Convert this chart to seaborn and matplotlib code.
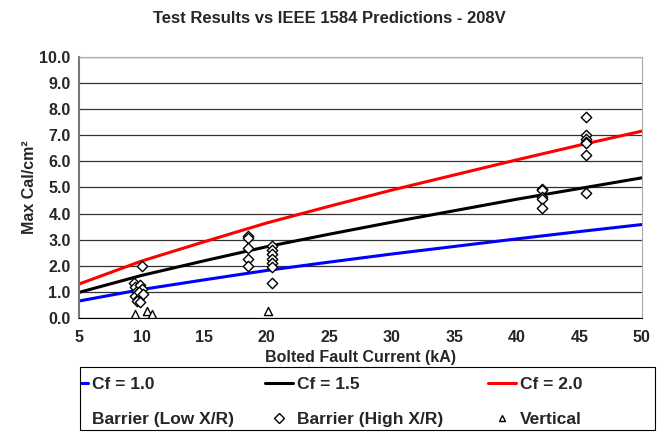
import numpy as np
import pandas as pd
import seaborn as sns
import matplotlib.pyplot as plt
from matplotlib.lines import Line2D
from matplotlib.patches import Rectangle

# IEEE 1584 prediction curves
akim = [5, 10, 15, 20, 25, 30, 35, 40, 45, 50]
cf_10 = [0.65, 1.09, 1.46, 1.82, 2.14, 2.45, 2.74, 3.03, 3.31, 3.58]
cf_15 = [0.98, 1.63, 2.19, 2.73, 3.21, 3.67, 4.11, 4.55, 4.96, 5.37]
cf_20 = [1.30, 2.18, 2.92, 3.64, 4.28, 4.90, 5.48, 6.06, 6.62, 7.16]

# test results
low_x = [9.4, 9.5, 9.6, 9.7, 9.5, 9.8, 9.6, 18.5, 18.5, 18.5, 18.5, 18.5, 42.0, 42.0, 42.0, 42.0, 42.0]
low_y = [1.35, 1.2, 1.05, 0.95, 0.85, 0.75, 0.65, 3.15, 3.05, 2.7, 2.25, 2.0, 4.95, 4.9, 4.65, 4.55, 4.2]
high_x = [10.0, 9.9, 10.0, 9.8, 10.1, 9.9, 20.4, 20.4, 20.4, 20.4, 20.4, 20.4, 20.4,
          45.5, 45.5, 45.5, 45.5, 45.5, 45.5, 45.5]
high_y = [2.0, 1.25, 1.1, 1.0, 0.9, 0.6, 2.75, 2.6, 2.45, 2.25, 2.1, 1.95, 1.35,
          7.7, 7.0, 6.85, 6.75, 6.7, 6.25, 4.8]
vert_x = [9.5, 10.4, 10.85, 20.1]
vert_y = [0.15, 0.25, 0.15, 0.28]

sns.set_style("white")
plt.rcParams['font.family'] = ['Liberation Sans', 'DejaVu Sans']
plt.rcParams['font.weight'] = 'bold'

fig = plt.figure(figsize=(6.59, 4.32), dpi=100)
ax = fig.add_axes([0.12, 0.264, 0.854, 0.604])

kurvy = pd.DataFrame({"x": akim, "c1": cf_10, "c15": cf_15, "c2": cf_20})
sns.lineplot(data=kurvy, x="x", y="c1", color="#0000ff", lw=2.2, ax=ax)
sns.lineplot(data=kurvy, x="x", y="c15", color="black", lw=2.2, ax=ax)
sns.lineplot(data=kurvy, x="x", y="c2", color="#ff0000", lw=2.2, ax=ax)

sns.scatterplot(x=low_x, y=low_y, marker="D", s=28, facecolor="white", edgecolor="black", linewidth=1, ax=ax, zorder=5)
sns.scatterplot(x=high_x, y=high_y, marker="D", s=28, facecolor="white", edgecolor="black", linewidth=1, ax=ax, zorder=5)
sns.scatterplot(x=vert_x, y=vert_y, marker="^", s=34, facecolor="white", edgecolor="black", linewidth=1, ax=ax, zorder=5)

ax.set_xlim(5, 50)
ax.set_ylim(0, 10)
ax.set_xticks(np.arange(5, 51, 5))
ax.set_yticks(np.arange(0, 10.1, 1))
ax.set_yticklabels([f"{v:.1f}" for v in np.arange(0, 10.1, 1)])
ax.yaxis.grid(True, color="#333333", lw=0.9)
ax.set_axisbelow(True)
ax.tick_params(axis="both", labelsize=11.5, direction="out", length=4, width=1, pad=2)
ax.tick_params(axis="x", pad=5)
for s in ["top", "right"]:
    ax.spines[s].set_color("#aaaaaa")
ax.spines["left"].set_color("#777777")
ax.spines["left"].set_linewidth(1.5)
ax.spines["bottom"].set_color("black")
ax.set_xlabel("Bolted Fault Current (kA)", fontsize=11.5, fontweight="bold", labelpad=3)
ax.set_ylabel("Max Cal/cm²", fontsize=11.5, fontweight="bold", labelpad=2)
fig.suptitle("Test Results vs IEEE 1584 Predictions - 208V", fontsize=12, fontweight="bold", y=0.975)

# legend: three columns, the left one clipped by the box edge like the original
cols = [
    (60, [Line2D([], [], color="#0000ff", lw=2.2),
          Line2D([], [], marker="D", ls="none", mfc="white", mec="black", ms=5)],
     ["Cf = 1.0", "Barrier (Low X/R)"]),
    (265, [Line2D([], [], color="black", lw=2.2),
           Line2D([], [], marker="D", ls="none", mfc="white", mec="black", ms=5)],
     ["Cf = 1.5", "Barrier (High X/R)"]),
    (488, [Line2D([], [], color="#ff0000", lw=2.2),
           Line2D([], [], marker="^", ls="none", mfc="white", mec="black", ms=5)],
     ["Cf = 2.0", "Vertical"]),
]
for px, hnd, lbl in cols:
    fig.legend(hnd, lbl, loc="center left", bbox_to_anchor=(px / 659, (432 - 402) / 432),
               fontsize=12.5, frameon=False, handlelength=1.6, handletextpad=0.25,
               borderpad=0, borderaxespad=0, labelspacing=1.1)

fig.add_artist(Rectangle((0, 0), 80 / 659, 66 / 432, transform=fig.transFigure,
                         facecolor="white", edgecolor="none", zorder=20))
fig.add_artist(Rectangle((80 / 659, 2 / 432), 575 / 659, 63 / 432, transform=fig.transFigure,
                         facecolor="none", edgecolor="black", lw=0.8, zorder=21))

fig.savefig("out.png", dpi=100)
